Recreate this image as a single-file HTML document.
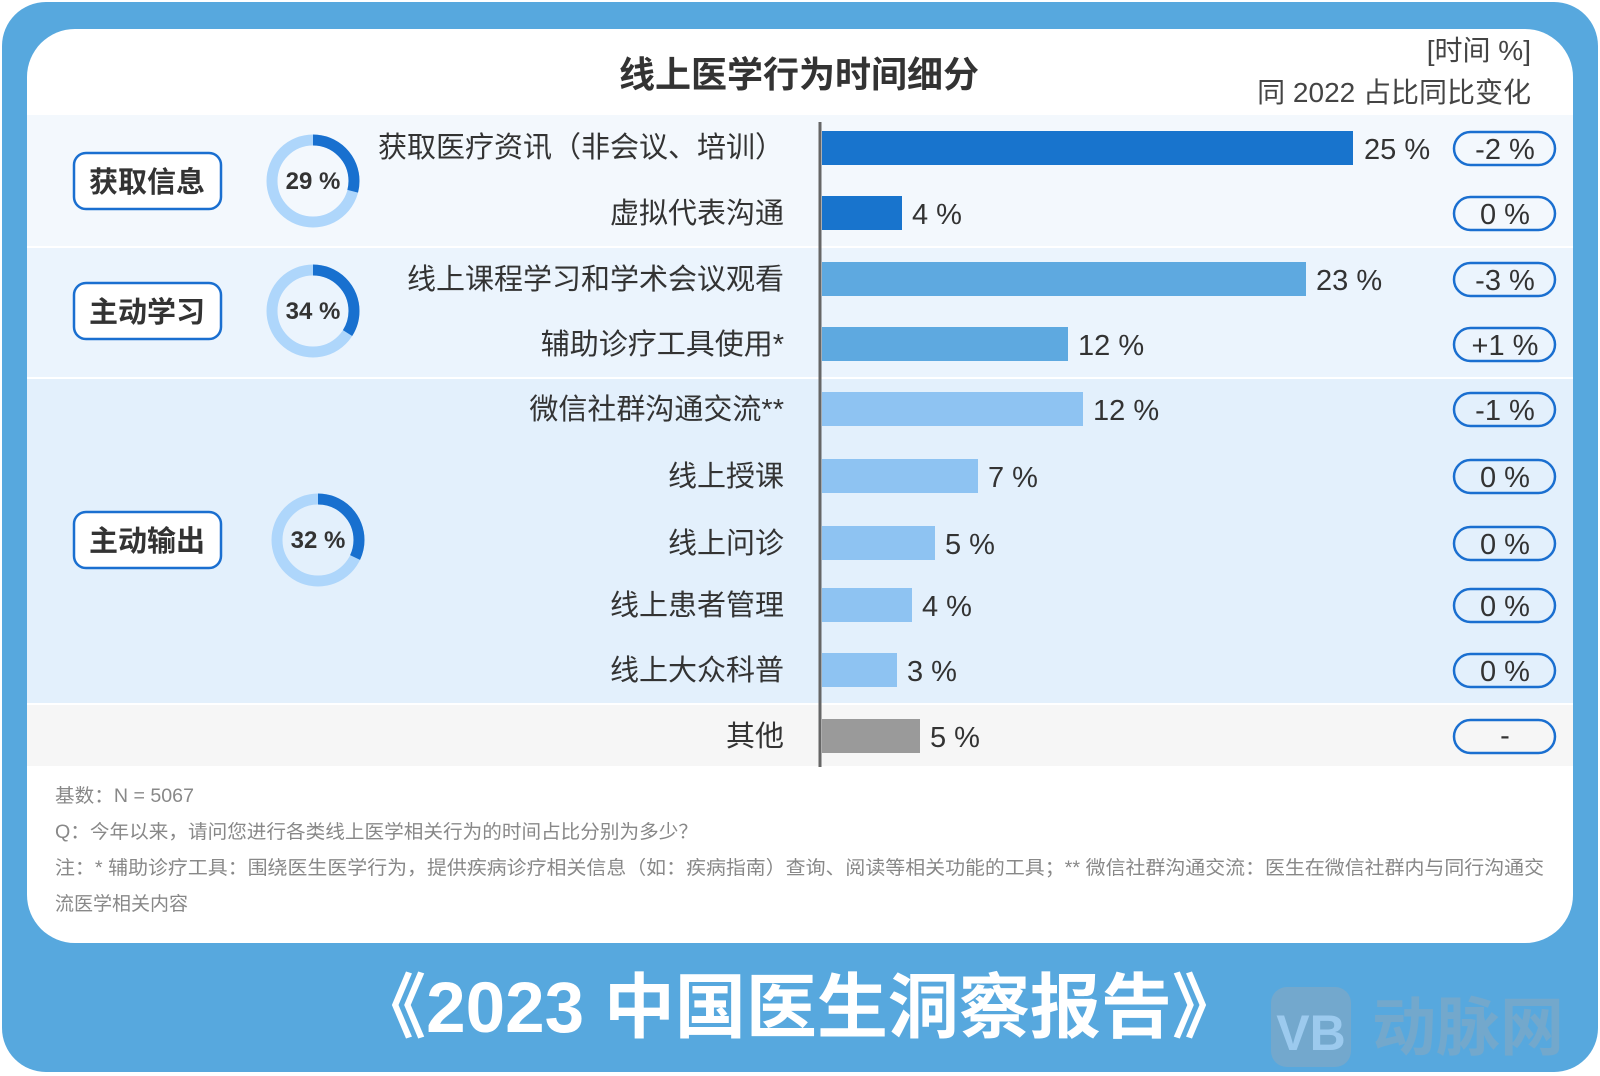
<!DOCTYPE html>
<html><head><meta charset="utf-8"><style>
html,body{margin:0;padding:0;background:#fff;}
svg{display:block;font-family:"Liberation Sans","Noto Sans CJK SC",sans-serif;}
</style></head><body>
<svg width="1600" height="1076" viewBox="0 0 1600 1076" xmlns="http://www.w3.org/2000/svg">
<rect x="2" y="2" width="1596" height="1070" rx="44" fill="#57a8de"/>
<rect x="27" y="29" width="1546" height="914" rx="48" fill="#ffffff"/>
<rect x="27" y="115" width="1546" height="131" fill="#f3f8fd"/>
<rect x="27" y="248" width="1546" height="129" fill="#ebf4fd"/>
<rect x="27" y="379" width="1546" height="324" fill="#e3f0fc"/>
<rect x="27" y="705" width="1546" height="61" fill="#f6f6f6"/>
<text x="799" y="87" text-anchor="middle" font-size="36" font-weight="bold" fill="#333">线上医学行为时间细分</text>
<text x="1531" y="60" text-anchor="end" font-size="28" fill="#444">[时间 %]</text>
<text x="1531" y="102" text-anchor="end" font-size="28" fill="#444">同 2022 占比同比变化</text>
<line x1="820" y1="122" x2="820" y2="767" stroke="#666" stroke-width="3"/>
<g font-size="29" fill="#333" text-anchor="end">
<text x="784" y="157">获取医疗资讯（非会议、培训）</text>
<text x="784" y="223">虚拟代表沟通</text>
<text x="784" y="289">线上课程学习和学术会议观看</text>
<text x="784" y="354">辅助诊疗工具使用*</text>
<text x="784" y="419">微信社群沟通交流**</text>
<text x="784" y="486">线上授课</text>
<text x="784" y="553">线上问诊</text>
<text x="784" y="615">线上患者管理</text>
<text x="784" y="680">线上大众科普</text>
<text x="784" y="746">其他</text>
</g>
<g>
<rect x="822" y="131" width="531" height="34" fill="#1874cd"/>
<rect x="822" y="196" width="80" height="34" fill="#1874cd"/>
<rect x="822" y="262" width="484" height="34" fill="#5ea9e0"/>
<rect x="822" y="327" width="246" height="34" fill="#5ea9e0"/>
<rect x="822" y="392" width="261" height="34" fill="#8ec3f2"/>
<rect x="822" y="459" width="156" height="34" fill="#8ec3f2"/>
<rect x="822" y="526" width="113" height="34" fill="#8ec3f2"/>
<rect x="822" y="588" width="90" height="34" fill="#8ec3f2"/>
<rect x="822" y="653" width="75" height="34" fill="#8ec3f2"/>
<rect x="822" y="719" width="98" height="34" fill="#9a9a9a"/>
</g>
<g font-size="29" fill="#333">
<text x="1364" y="159">25 %</text>
<text x="912" y="224">4 %</text>
<text x="1316" y="290">23 %</text>
<text x="1078" y="355">12 %</text>
<text x="1093" y="420">12 %</text>
<text x="988" y="487">7 %</text>
<text x="945" y="554">5 %</text>
<text x="922" y="616">4 %</text>
<text x="907" y="681">3 %</text>
<text x="930" y="747">5 %</text>
</g>
<g fill="none" stroke="#1a6fd0" stroke-width="2.5">
<rect x="1454" y="132" width="101" height="33" rx="16.5"/>
<rect x="1454" y="197" width="101" height="33" rx="16.5"/>
<rect x="1454" y="263" width="101" height="33" rx="16.5"/>
<rect x="1454" y="328" width="101" height="33" rx="16.5"/>
<rect x="1454" y="393" width="101" height="33" rx="16.5"/>
<rect x="1454" y="460" width="101" height="33" rx="16.5"/>
<rect x="1454" y="527" width="101" height="33" rx="16.5"/>
<rect x="1454" y="589" width="101" height="33" rx="16.5"/>
<rect x="1454" y="654" width="101" height="33" rx="16.5"/>
<rect x="1454" y="720" width="101" height="33" rx="16.5"/>
</g>
<g font-size="29" fill="#333" text-anchor="middle">
<text x="1505" y="159">-2 %</text>
<text x="1505" y="224">0 %</text>
<text x="1505" y="290">-3 %</text>
<text x="1505" y="355">+1 %</text>
<text x="1505" y="420">-1 %</text>
<text x="1505" y="487">0 %</text>
<text x="1505" y="554">0 %</text>
<text x="1505" y="616">0 %</text>
<text x="1505" y="681">0 %</text>
<text x="1505" y="745">-</text>
</g>
<g fill="#fff" stroke="#1a6fd0" stroke-width="2.5">
<rect x="74" y="153" width="147" height="56" rx="12"/>
<rect x="74" y="283" width="147" height="56" rx="12"/>
<rect x="74" y="512" width="147" height="56" rx="12"/>
</g>
<g font-size="29" font-weight="bold" fill="#333" text-anchor="middle">
<text x="147" y="192">获取信息</text>
<text x="147" y="322">主动学习</text>
<text x="147" y="551">主动输出</text>
</g>
<g fill="none" stroke-width="11">
<circle cx="313" cy="181" r="41" stroke="#aed6fb"/>
<circle cx="313" cy="181" r="41" stroke="#1870cf" stroke-dasharray="74.7 300" transform="rotate(-90 313 181)"/>
<circle cx="313" cy="311" r="41" stroke="#aed6fb"/>
<circle cx="313" cy="311" r="41" stroke="#1870cf" stroke-dasharray="87.6 300" transform="rotate(-90 313 311)"/>
<circle cx="318" cy="540" r="41" stroke="#aed6fb"/>
<circle cx="318" cy="540" r="41" stroke="#1870cf" stroke-dasharray="82.4 300" transform="rotate(-90 318 540)"/>
</g>
<g font-size="24" font-weight="bold" fill="#333" text-anchor="middle">
<text x="313" y="189">29 %</text>
<text x="313" y="319">34 %</text>
<text x="318" y="548">32 %</text>
</g>
<g font-size="19" fill="#888">
<text x="55" y="802" textLength="139" lengthAdjust="spacingAndGlyphs">基数：N = 5067</text>
<text x="55" y="838" textLength="643" lengthAdjust="spacingAndGlyphs">Q：今年以来，请问您进行各类线上医学相关行为的时间占比分别为多少？</text>
<text x="55" y="874" textLength="1489" lengthAdjust="spacingAndGlyphs">注：* 辅助诊疗工具：围绕医生医学行为，提供疾病诊疗相关信息（如：疾病指南）查询、阅读等相关功能的工具；** 微信社群沟通交流：医生在微信社群内与同行沟通交</text>
<text x="55" y="910">流医学相关内容</text>
</g>
<text x="799" y="1032" text-anchor="middle" font-size="71" font-weight="bold" fill="#fff">《2023 中国医生洞察报告》</text>
<rect x="1271" y="987" width="80" height="80" rx="16" fill="#7aa8c8" opacity="0.8"/>
<text x="1311" y="1050" text-anchor="middle" font-size="50" font-weight="bold" fill="#9ccaee">VB</text>
<text x="1372" y="1050" font-size="64" font-weight="bold" fill="#7aa8c8" opacity="0.8">动脉网</text>
</svg>
</body></html>
